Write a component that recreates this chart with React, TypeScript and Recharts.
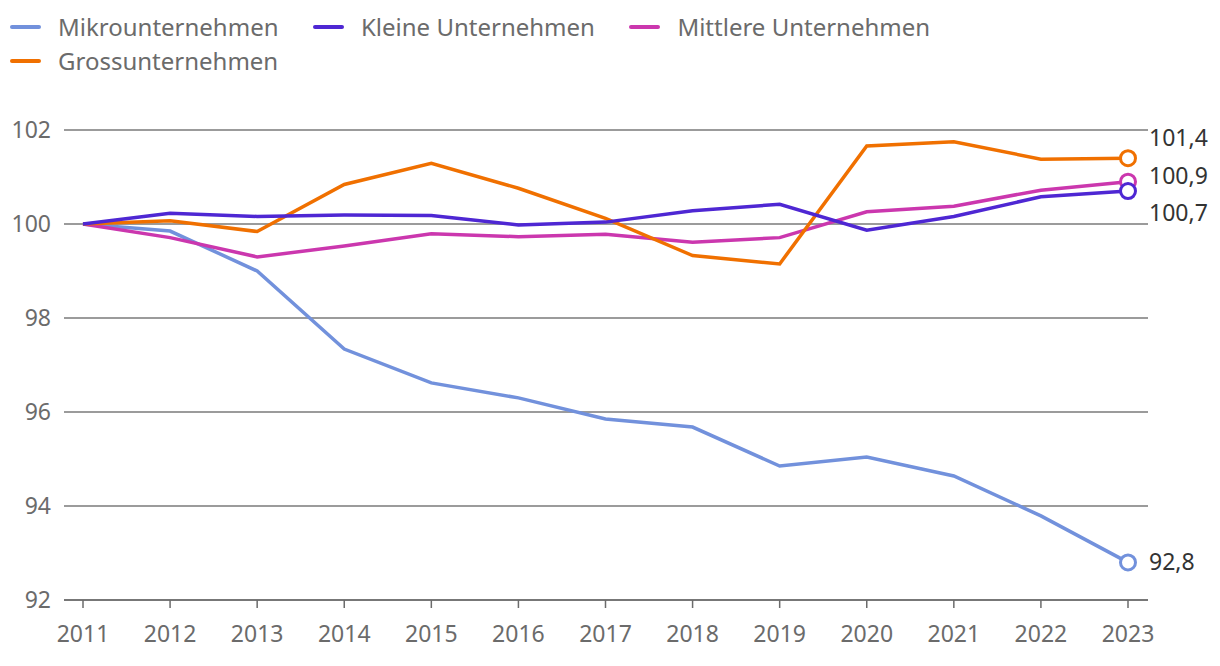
import React from 'react'
import { LineChart, Line, XAxis, YAxis, CartesianGrid, LabelList } from 'recharts'

const years = ['2011', '2012', '2013', '2014', '2015', '2016', '2017', '2018', '2019', '2020', '2021', '2022', '2023']
const mikro = [100, 99.85, 99.0, 97.34, 96.62, 96.3, 95.85, 95.68, 94.85, 95.04, 94.64, 93.79, 92.8]
const kleine = [100, 100.23, 100.16, 100.19, 100.18, 99.98, 100.04, 100.28, 100.42, 99.87, 100.16, 100.58, 100.7]
const mittlere = [100, 99.71, 99.3, 99.53, 99.79, 99.73, 99.78, 99.61, 99.71, 100.26, 100.38, 100.72, 100.9]
const gross = [100, 100.07, 99.84, 100.84, 101.29, 100.76, 100.12, 99.33, 99.15, 101.66, 101.75, 101.38, 101.4]
const yTicks = [92, 94, 96, 98, 100, 102]

const series = [
  { key: 'mikro', name: 'Mikrounternehmen', color: '#7291DC', values: mikro },
  { key: 'kleine', name: 'Kleine Unternehmen', color: '#4E27D3', values: kleine },
  { key: 'mittlere', name: 'Mittlere Unternehmen', color: '#CB37AE', values: mittlere },
  { key: 'gross', name: 'Grossunternehmen', color: '#F07000', values: gross },
]
// draw order: small firms end up on top like in the original
const drawOrder = ['mikro', 'mittlere', 'gross', 'kleine']

// vertical nudge of the end labels so they don't collide
const labelDy: Record<string, number> = { mikro: 0, kleine: 22, mittlere: -6, gross: -20 }

const data = years.map((year, i) => {
  const row: any = { year }
  series.forEach(s => { row[s.key] = s.values[i] })
  return row
})

const last = years.length - 1
const font = '"Noto Sans", "Open Sans", sans-serif'

const fmt = (v: number) => v.toFixed(1).replace('.', ',')

export default function App() {
  const ordered = drawOrder.map(k => series.find(s => s.key === k)!)
  return (
    <div style={{ position: 'absolute', left: 0, top: 0, width: 1220, height: 666, fontFamily: font, background: '#fff' }}>
      <div style={{ position: 'absolute', left: 10, top: 10, width: 1000, display: 'flex', flexWrap: 'wrap', zIndex: 2 }}>
        {series.map(s => (
          <div key={s.key} style={{ display: 'flex', alignItems: 'center', height: 34, marginRight: 34.5 }}>
            <span style={{ display: 'inline-block', width: 31, height: 4, borderRadius: 2, background: s.color, marginRight: 17 }} />
            <span style={{ fontSize: 24, color: '#6b6b6b', lineHeight: '34px' }}>{s.name}</span>
          </div>
        ))}
      </div>
      <LineChart width={1220} height={666} data={data} margin={{ top: 130, right: 72, bottom: 26, left: 0 }} style={{ fontFamily: font }}>
        <CartesianGrid vertical={false} stroke="#7a7a7a" strokeWidth={1.5} />
        <XAxis
          dataKey="year"
          interval={0}
          height={40}
          padding={{ left: 19, right: 20 }}
          tickSize={8}
          tickMargin={18}
          tickLine={{ stroke: '#6b6b6b', strokeWidth: 1.5 }}
          axisLine={{ stroke: '#6b6b6b', strokeWidth: 1.5 }}
          tick={{ fill: '#6b6b6b', fontSize: 23 }}
        />
        <YAxis
          domain={[92, 102]}
          ticks={yTicks}
          width={64}
          tickSize={0}
          tickMargin={13}
          axisLine={false}
          tickLine={false}
          tick={{ fill: '#6b6b6b', fontSize: 23 }}
        />
        {ordered.map(s => (
          <Line
            key={s.key}
            dataKey={s.key}
            name={s.name}
            stroke={s.color}
            strokeWidth={3.5}
            type="linear"
            isAnimationActive={false}
            activeDot={false}
            dot={(p: any) =>
              p.index === last ? (
                <circle key={`${s.key}-dot`} cx={p.cx} cy={p.cy} r={7.5} fill="#fff" stroke={s.color} strokeWidth={3} />
              ) : (
                <g key={`${s.key}-d${p.index}`} />
              )
            }
          >
            <LabelList
              dataKey={s.key}
              content={(p: any) =>
                p.index === last ? (
                  <text x={p.x + 21} y={p.y + labelDy[s.key]} dy="0.35em" fill="#333" fontSize={23} textAnchor="start">
                    {fmt(Number(p.value))}
                  </text>
                ) : null
              }
            />
          </Line>
        ))}
      </LineChart>
    </div>
  )
}
